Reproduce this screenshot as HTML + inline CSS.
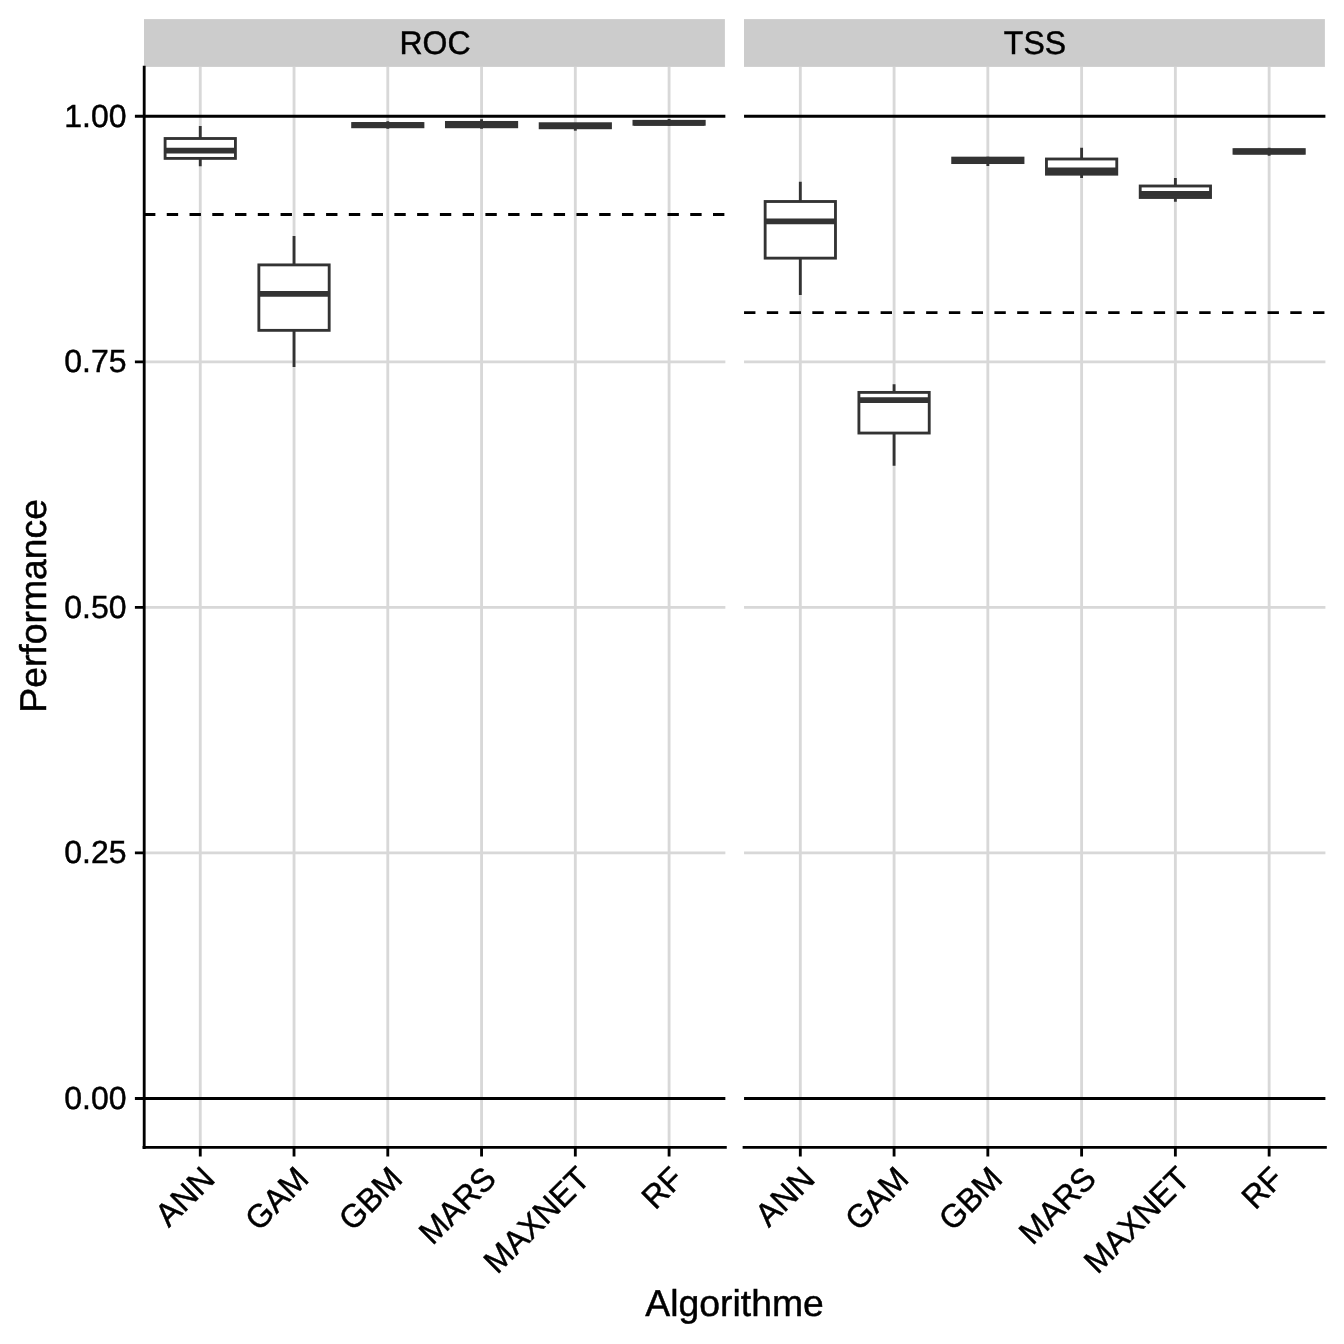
<!DOCTYPE html>
<html><head><meta charset="utf-8"><style>
html,body{margin:0;padding:0;background:#fff;}
svg{display:block;will-change:transform;}
.t,.tt{text-rendering:geometricPrecision;}
.t{font-family:"Liberation Sans",sans-serif;font-size:32px;fill:#000;stroke:#000;stroke-width:0.45px;}
.tt{font-family:"Liberation Sans",sans-serif;font-size:37.33px;fill:#000;stroke:#000;stroke-width:0.45px;}
</style></head><body>
<svg width="1344" height="1344" viewBox="0 0 1344 1344">
<rect width="1344" height="1344" fill="#fff"/>
<rect x="144.0" y="19.1" width="580.90" height="47.80" fill="#CCCCCC"/>
<text transform="translate(434.95 53.9) scale(1 1.02)" text-anchor="middle" class="t">ROC</text>
<path d="M144.0 852.94H725.35 M144.0 607.38H725.35 M144.0 361.81H725.35 M200.26 67.1V1147.6 M294.03 67.1V1147.6 M387.79 67.1V1147.6 M481.56 67.1V1147.6 M575.32 67.1V1147.6 M669.09 67.1V1147.6" stroke="#D8D8D8" stroke-width="2.845" fill="none"/>
<path d="M144.0 116.25H725.35M144.0 1098.50H725.35" stroke="#000" stroke-width="2.845" fill="none"/>
<path d="M144.0 214.47H725.35" stroke="#000" stroke-width="2.845" stroke-dasharray="11.38 11.38" fill="none"/>
<path d="M200.26 126.05V138.5M200.26 158.4V166.2" stroke="#333333" stroke-width="2.845" fill="none"/>
<rect x="165.10" y="138.5" width="70.32" height="19.90" fill="#fff" stroke="#333333" stroke-width="2.845"/>
<path d="M165.10 150.55H235.42" stroke="#333333" stroke-width="5.69" fill="none"/>
<path d="M294.03 235.9V264.9M294.03 330.35V367.0" stroke="#333333" stroke-width="2.845" fill="none"/>
<rect x="258.86" y="264.9" width="70.32" height="65.45" fill="#fff" stroke="#333333" stroke-width="2.845"/>
<path d="M258.86 293.95H329.19" stroke="#333333" stroke-width="5.69" fill="none"/>
<path d="M387.79 121.2V123.5M387.79 126.8V128.8" stroke="#333333" stroke-width="2.845" fill="none"/>
<rect x="352.63" y="123.5" width="70.32" height="3.30" fill="#fff" stroke="#333333" stroke-width="2.845"/>
<path d="M352.63 125.1H422.95" stroke="#333333" stroke-width="5.69" fill="none"/>
<path d="M481.56 119.3V122.4M481.56 126.8V128.7" stroke="#333333" stroke-width="2.845" fill="none"/>
<rect x="446.40" y="122.4" width="70.32" height="4.40" fill="#fff" stroke="#333333" stroke-width="2.845"/>
<path d="M446.40 125.2H516.72" stroke="#333333" stroke-width="5.69" fill="none"/>
<path d="M575.32 123.7V123.7M575.32 127.8V130.7" stroke="#333333" stroke-width="2.845" fill="none"/>
<rect x="540.16" y="123.7" width="70.32" height="4.10" fill="#fff" stroke="#333333" stroke-width="2.845"/>
<path d="M540.16 125.8H610.49" stroke="#333333" stroke-width="5.69" fill="none"/>
<path d="M669.09 119.1V121.3M669.09 124.3V125.7" stroke="#333333" stroke-width="2.845" fill="none"/>
<rect x="633.93" y="121.3" width="70.32" height="3.00" fill="#fff" stroke="#333333" stroke-width="2.845"/>
<path d="M633.93 122.8H704.25" stroke="#333333" stroke-width="5.69" fill="none"/>
<path d="M144.0 1147.4H725.35" stroke="#000" stroke-width="2.845" stroke-linecap="square" fill="none"/>
<path d="M200.26 1147.4V1156.6 M294.03 1147.4V1156.6 M387.79 1147.4V1156.6 M481.56 1147.4V1156.6 M575.32 1147.4V1156.6 M669.09 1147.4V1156.6" stroke="#000" stroke-width="2.845" fill="none"/>
<text transform="translate(216.56 1180.6) rotate(-45) scale(1 1.02)" text-anchor="end" class="t">ANN</text>
<text transform="translate(310.33 1180.6) rotate(-45) scale(1 1.02)" text-anchor="end" class="t">GAM</text>
<text transform="translate(404.09 1180.6) rotate(-45) scale(1 1.02)" text-anchor="end" class="t">GBM</text>
<text transform="translate(497.86 1180.6) rotate(-45) scale(1 1.02)" text-anchor="end" class="t">MARS</text>
<text transform="translate(591.62 1180.6) rotate(-45) scale(1 1.02)" text-anchor="end" class="t">MAXNET</text>
<text transform="translate(685.39 1180.6) rotate(-45) scale(1 1.02)" text-anchor="end" class="t">RF</text>
<rect x="744.0" y="19.1" width="580.90" height="47.80" fill="#CCCCCC"/>
<text transform="translate(1034.95 53.9) scale(1 1.02)" text-anchor="middle" class="t">TSS</text>
<path d="M744.05 852.94H1325.4 M744.05 607.38H1325.4 M744.05 361.81H1325.4 M800.31 67.1V1147.6 M894.08 67.1V1147.6 M987.84 67.1V1147.6 M1081.61 67.1V1147.6 M1175.37 67.1V1147.6 M1269.14 67.1V1147.6" stroke="#D8D8D8" stroke-width="2.845" fill="none"/>
<path d="M744.05 116.25H1325.4M744.05 1098.50H1325.4" stroke="#000" stroke-width="2.845" fill="none"/>
<path d="M744.05 312.70H1325.4" stroke="#000" stroke-width="2.845" stroke-dasharray="11.38 11.38" fill="none"/>
<path d="M800.31 181.85V201.5M800.31 258.15V295.05" stroke="#333333" stroke-width="2.845" fill="none"/>
<rect x="765.15" y="201.5" width="70.32" height="56.65" fill="#fff" stroke="#333333" stroke-width="2.845"/>
<path d="M765.15 221.4H835.47" stroke="#333333" stroke-width="5.69" fill="none"/>
<path d="M894.08 384.3V392.4M894.08 433.05V465.8" stroke="#333333" stroke-width="2.845" fill="none"/>
<rect x="858.91" y="392.4" width="70.32" height="40.65" fill="#fff" stroke="#333333" stroke-width="2.845"/>
<path d="M858.91 400.1H929.24" stroke="#333333" stroke-width="5.69" fill="none"/>
<path d="M987.84 156.7V158.1M987.84 162.6V166.0" stroke="#333333" stroke-width="2.845" fill="none"/>
<rect x="952.68" y="158.1" width="70.32" height="4.50" fill="#fff" stroke="#333333" stroke-width="2.845"/>
<path d="M952.68 160.3H1023.00" stroke="#333333" stroke-width="5.69" fill="none"/>
<path d="M1081.61 147.8V159.0M1081.61 174.2V177.9" stroke="#333333" stroke-width="2.845" fill="none"/>
<rect x="1046.45" y="159.0" width="70.32" height="15.20" fill="#fff" stroke="#333333" stroke-width="2.845"/>
<path d="M1046.45 170.4H1116.77" stroke="#333333" stroke-width="5.69" fill="none"/>
<path d="M1175.37 178.0V186.0M1175.37 197.5V201.8" stroke="#333333" stroke-width="2.845" fill="none"/>
<rect x="1140.21" y="186.0" width="70.32" height="11.50" fill="#fff" stroke="#333333" stroke-width="2.845"/>
<path d="M1140.21 193.9H1210.54" stroke="#333333" stroke-width="5.69" fill="none"/>
<path d="M1269.14 147.7V149.6M1269.14 153.3V155.7" stroke="#333333" stroke-width="2.845" fill="none"/>
<rect x="1233.98" y="149.6" width="70.32" height="3.70" fill="#fff" stroke="#333333" stroke-width="2.845"/>
<path d="M1233.98 151.5H1304.30" stroke="#333333" stroke-width="5.69" fill="none"/>
<path d="M744.05 1147.4H1325.4" stroke="#000" stroke-width="2.845" stroke-linecap="square" fill="none"/>
<path d="M800.31 1147.4V1156.6 M894.08 1147.4V1156.6 M987.84 1147.4V1156.6 M1081.61 1147.4V1156.6 M1175.37 1147.4V1156.6 M1269.14 1147.4V1156.6" stroke="#000" stroke-width="2.845" fill="none"/>
<text transform="translate(816.61 1180.6) rotate(-45) scale(1 1.02)" text-anchor="end" class="t">ANN</text>
<text transform="translate(910.38 1180.6) rotate(-45) scale(1 1.02)" text-anchor="end" class="t">GAM</text>
<text transform="translate(1004.14 1180.6) rotate(-45) scale(1 1.02)" text-anchor="end" class="t">GBM</text>
<text transform="translate(1097.91 1180.6) rotate(-45) scale(1 1.02)" text-anchor="end" class="t">MARS</text>
<text transform="translate(1191.67 1180.6) rotate(-45) scale(1 1.02)" text-anchor="end" class="t">MAXNET</text>
<text transform="translate(1285.44 1180.6) rotate(-45) scale(1 1.02)" text-anchor="end" class="t">RF</text>
<path d="M144.2 67.1V1147.6" stroke="#000" stroke-width="2.845" stroke-linecap="square" fill="none"/>
<path d="M134.9 1098.50H144.2 M134.9 852.94H144.2 M134.9 607.38H144.2 M134.9 361.81H144.2 M134.9 116.25H144.2" stroke="#000" stroke-width="2.845" fill="none"/>
<text transform="translate(126.6 1109.00) scale(1 1.0)" text-anchor="end" class="t">0.00</text>
<text transform="translate(126.6 863.44) scale(1 1.0)" text-anchor="end" class="t">0.25</text>
<text transform="translate(126.6 617.88) scale(1 1.0)" text-anchor="end" class="t">0.50</text>
<text transform="translate(126.6 372.31) scale(1 1.0)" text-anchor="end" class="t">0.75</text>
<text transform="translate(126.6 126.75) scale(1 1.0)" text-anchor="end" class="t">1.00</text>
<text transform="translate(45.9 605.9) rotate(-90) scale(1 1.0)" text-anchor="middle" class="tt">Performance</text>
<text transform="translate(734.55 1316.1) scale(1 1.0)" text-anchor="middle" class="tt">Algorithme</text>
</svg>
</body></html>
